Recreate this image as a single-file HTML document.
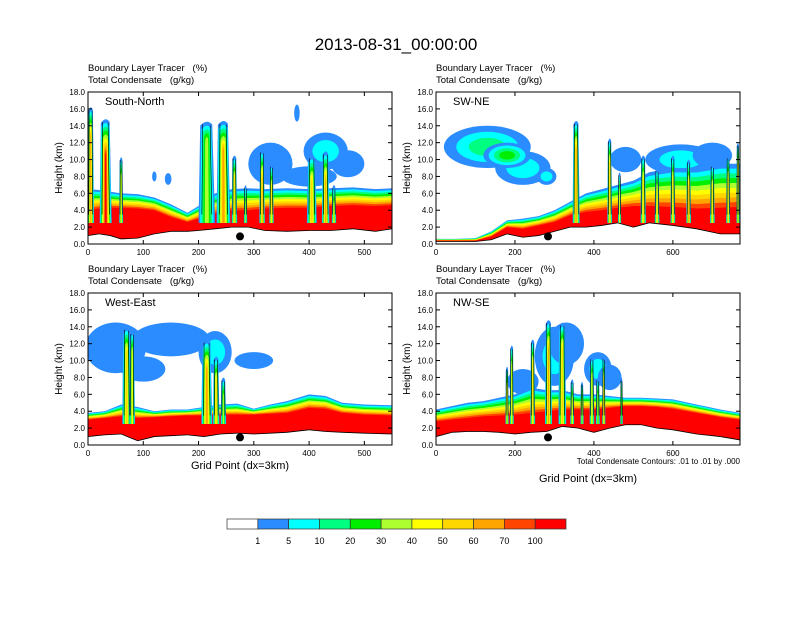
<!DOCTYPE html>
<html><head><meta charset="utf-8">
<style>
body{margin:0;background:#fff;}
svg text{font-family:"Liberation Sans",Arial,sans-serif;}
</style></head>
<body>
<svg id="fig" width="792" height="612" viewBox="0 0 792 612" xmlns="http://www.w3.org/2000/svg">
<rect width="792" height="612" fill="#fff"/>
<text x="396" y="50" font-size="17" text-anchor="middle">2013-08-31_00:00:00</text>
<g id="panels"></g>
<g id="cbar"></g>
</svg>
<script>
const colors=["#ffffff","#2a8cff","#00ffff","#00ff80","#00ee00","#adff2f","#ffff00","#ffd700","#ffa500","#ff4500","#ff0000"];
const cbLabels=["1","5","10","20","30","40","50","60","70","100"];
const yTicks=[0,2,4,6,8,10,12,14,16,18];

// Panel 1 South-North
const p1X=[0,20,40,60,90,120,150,180,200,230,260,290,320,360,400,440,480,520,550];
const p1Terrain=[1.0,1.2,1.0,0.6,0.7,1.2,1.5,1.5,1.6,1.8,2.0,2.0,1.6,1.5,1.6,1.6,1.8,1.5,1.8];
const p1Core=[4.0,4.2,4.3,4.3,4.2,4.0,3.2,2.6,3.0,3.6,4.0,4.0,4.2,4.3,4.3,4.5,4.6,4.5,4.6];
const p1Edge=[6.5,6.4,6.2,6.0,5.9,5.5,4.7,3.7,4.5,6.0,6.5,6.6,6.5,6.6,6.5,6.6,6.7,6.5,6.6];
const p1TowerX=[5,32,60,215,245,265,285,315,332,405,430,445];
const p1TowerW=[12,22,7,30,25,10,6,10,8,18,14,8];
const p1TowerTop=[16.2,14.8,10.3,14.5,14.6,10.5,7.0,11.2,9.5,10.5,11.0,7.0];
const p1TowerLvl=[8,10,6,5,8,7,5,8,7,7,8,6];
const p1CloudX=[330,400,378,470,120,145,430];
const p1CloudY=[9.5,8.0,15.5,9.5,8.0,7.7,11.0];
const p1CloudRX=[40,50,5,30,4,6,40];
const p1CloudRY=[2.5,1.2,1.0,1.6,0.6,0.7,2.2];
const p1CloudLvl=[1,1,1,1,1,1,2];

// Panel 2 SW-NE
const p2X=[0,50,100,140,180,220,260,300,340,380,420,460,500,540,600,660,720,770];
const p2Terrain=[0.3,0.3,0.3,0.5,1.2,0.8,1.0,1.5,2.0,2.0,2.2,2.5,2.0,2.5,2.2,1.8,1.2,1.2];
const p2Core=[0.4,0.4,0.4,0.9,2.0,1.8,2.2,2.6,3.4,3.8,4.0,4.3,4.5,4.5,4.4,4.2,4.3,4.4];
const p2Edge=[0.6,0.6,0.7,1.5,2.8,3.0,3.3,4.0,5.0,6.0,6.5,7.0,7.5,8.5,9.0,9.0,9.5,9.5];
const p2TowerX=[355,440,465,525,560,600,640,700,740,765];
const p2TowerW=[18,12,8,14,12,12,12,12,10,8];
const p2TowerTop=[14.6,12.5,8.5,10.5,9.0,10.5,10.0,9.5,10.5,12.0];
const p2TowerLvl=[8,7,6,7,7,7,8,7,7,6];
const p2CloudX=[130,220,180,280,480,620,700];
const p2CloudY=[11.5,9.0,10.5,8.0,10.0,10.0,10.5];
const p2CloudRX=[110,70,60,25,40,90,50];
const p2CloudRY=[2.5,2.0,1.5,1.0,1.5,1.8,1.5];
const p2CloudLvl=[3,2,4,2,1,2,1];

// Panel 3 West-East
const p3X=[0,30,60,90,120,150,180,210,240,270,300,330,360,400,430,460,500,550];
const p3Terrain=[1.0,1.2,1.3,0.5,1.0,1.1,1.2,1.0,1.3,1.4,1.3,1.4,1.5,1.8,1.6,1.5,1.4,1.3];
const p3Core=[3.0,3.2,3.4,3.2,3.3,3.4,3.5,3.5,3.6,3.6,3.6,3.7,3.8,4.4,4.3,3.8,3.6,3.5];
const p3Edge=[3.8,4.0,4.8,4.5,4.0,4.2,4.2,4.5,4.8,4.9,4.3,4.8,5.2,6.0,5.8,5.0,4.8,4.7];
const p3TowerX=[70,80,215,232,245];
const p3TowerW=[16,10,20,12,10];
const p3TowerTop=[14.0,13.5,12.5,10.5,8.0];
const p3TowerLvl=[7,6,8,7,5];
const p3CloudX=[50,150,230,300,100];
const p3CloudY=[11.5,12.5,11.0,10.0,9.0];
const p3CloudRX=[55,70,30,35,40];
const p3CloudRY=[3.0,2.0,2.5,1.0,1.5];
const p3CloudLvl=[1,1,2,1,1];

// Panel 4 NW-SE
const p4X=[0,40,80,120,160,200,240,280,320,360,400,440,480,520,560,600,660,720,770];
const p4Terrain=[1.0,1.5,1.6,1.6,1.5,1.3,1.5,1.6,2.2,2.0,1.5,2.0,2.4,2.4,2.0,1.8,1.3,1.0,0.6];
const p4Core=[2.8,3.0,3.2,3.4,3.5,3.6,3.8,4.0,4.2,4.2,4.2,4.4,4.6,4.6,4.5,4.3,3.8,3.3,3.0];
const p4Edge=[4.2,4.6,5.0,5.2,5.6,6.0,6.8,6.5,6.5,6.0,6.0,5.8,5.6,5.6,5.5,5.4,4.8,4.2,3.8];
const p4TowerX=[180,192,245,285,320,345,370,395,410,425,470];
const p4TowerW=[8,10,12,18,20,10,8,12,10,8,6];
const p4TowerTop=[9.3,11.8,12.5,14.8,14.5,7.8,7.5,10.5,8.0,10.5,8.0];
const p4TowerLvl=[6,6,7,8,7,6,5,6,5,7,4];
const p4CloudX=[220,300,330,410,440];
const p4CloudY=[7.5,10.5,12.0,9.0,8.0];
const p4CloudRX=[40,50,45,35,30];
const p4CloudRY=[1.5,3.5,2.5,2.0,1.5];
const p4CloudLvl=[1,2,1,2,1];

const NS="http://www.w3.org/2000/svg";
function mk(tag,attrs,parent){const e=document.createElementNS(NS,tag);for(const k in attrs)e.setAttribute(k,attrs[k]);parent.appendChild(e);return e;}

function drawPanel(g,ox,oy,w,h,xmax,xticks,label,X,T,C,E,tX,tW,tT,tL,cX,cY,cRX,cRY,cL){
  const sx=v=>ox+v/xmax*w, sy=v=>oy+h-v/18*h, sw=v=>v/xmax*w, sh=v=>v/18*h;
  const clip='clip'+label.replace(/\W/g,'');
  const defs=mk('defs',{},g);
  const cp=mk('clipPath',{id:clip},defs);mk('rect',{x:ox,y:oy,width:w,height:h},cp);
  const body=mk('g',{'clip-path':'url(#'+clip+')'},g);
  cX.forEach((cx,i)=>{
    for(let l=1;l<=cL[i];l++){
      const f=1-(l-1)/(cL[i]+0.5);
      const e=mk('ellipse',{cx:sx(cx),cy:sy(cY[i]),rx:sw(cRX[i])*f,ry:sh(cRY[i])*f,fill:colors[l]},body);
      
      
    }
  });
  for(let l=1;l<=10;l++){
    const frac=(l-1)/9;
    let pts=X.map((x,i)=>sx(x)+','+sy(E[i]+(C[i]-E[i])*frac)).join(' ');
    pts+=' '+X.slice().reverse().map((x,j)=>{const i=X.length-1-j;return sx(x)+','+sy(T[i]);}).join(' ');
    const p=mk('polygon',{points:pts,fill:colors[l]},body);
    
    
  }
  tX.forEach((x,i)=>{
    const cx=sx(x), base=sy(2.5);
    for(let l=1;l<=tL[i];l++){
      const f=1-(l-1)/(tL[i]+0.3);
      const top=sy(tT[i]-(l-1)*0.45);
      const hw=sw(tW[i])*f/2, tw=hw*0.65;
      const p=mk('path',{d:`M${cx-hw},${base} L${cx-hw*0.8},${top+4} Q${cx},${top-3} ${cx+tw},${top+3} L${cx+hw},${base} Z`,fill:colors[l]},body);
      
      
    }
    const hw=sw(tW[i])/2;
    mk('line',{x1:cx-hw*0.6,y1:sy(3.5),x2:cx-hw*0.5,y2:sy(tT[i])+3,stroke:'#000','stroke-width':0.6},body);
    mk('line',{x1:cx+hw*0.4,y1:sy(tT[i])+4,x2:cx+hw*0.6,y2:sy(3.5),stroke:'#000','stroke-width':0.6},body);
  });
  for(let i=0;i<X.length-1;i++){
    const ln=mk('line',{x1:sx(X[i]),y1:sy(T[i]),x2:sx(X[i+1]),y2:sy(T[i+1]),stroke:'#000','stroke-width':0.8},body);
    
    
  }
  mk('rect',{x:ox,y:oy,width:w,height:h,fill:'none',stroke:'#000','stroke-width':1},g);
  yTicks.forEach(v=>{
    const y=sy(v);
    mk('line',{x1:ox,x2:ox+4,y1:y,y2:y,stroke:'#000'},g);
    mk('line',{x1:ox+w,x2:ox+w-4,y1:y,y2:y,stroke:'#000'},g);
    const t=mk('text',{x:ox-3,y:y+3,'font-size':8,'text-anchor':'end'},g);t.textContent=v.toFixed(1);
    
    
  });
  xticks.forEach(v=>{
    const x=sx(v);
    mk('line',{x1:x,x2:x,y1:oy+h,y2:oy+h-4,stroke:'#000'},g);
    mk('line',{x1:x,x2:x,y1:oy,y2:oy+4,stroke:'#000'},g);
    const t=mk('text',{x:x,y:oy+h+11,'font-size':8,'text-anchor':'middle'},g);t.textContent=v;
    
    
  });
  const yt=mk('text',{x:ox-26,y:oy+h/2,'font-size':10,'text-anchor':'middle',transform:`rotate(-90 ${ox-26} ${oy+h/2})`},g);yt.textContent='Height (km)';
  
  
  const t1=mk('text',{x:ox,y:oy-21,'font-size':9.5},g);t1.textContent='Boundary Layer Tracer\u00a0\u00a0\u00a0(%)';
  
  
  const t2=mk('text',{x:ox,y:oy-9,'font-size':9.5},g);t2.textContent='Total Condensate\u00a0\u00a0\u00a0(g/kg)';
  
  
  const lb=mk('text',{x:ox+17,y:oy+13,'font-size':11},g);lb.textContent=label;
  
  
  const dot=mk('circle',{cx:ox+w*0.5+(xmax>600?-40:0),cy:sy(0.9),r:4,fill:'#000'},g);
  
  
}
const P=document.getElementById('panels');
const g1=mk('g',{},P);
drawPanel(g1,88,92,304,152,550,[0,100,200,300,400,500],'South-North',p1X,p1Terrain,p1Core,p1Edge,p1TowerX,p1TowerW,p1TowerTop,p1TowerLvl,p1CloudX,p1CloudY,p1CloudRX,p1CloudRY,p1CloudLvl);
const g2=mk('g',{},P);
drawPanel(g2,436,92,304,152,770,[0,200,400,600],'SW-NE',p2X,p2Terrain,p2Core,p2Edge,p2TowerX,p2TowerW,p2TowerTop,p2TowerLvl,p2CloudX,p2CloudY,p2CloudRX,p2CloudRY,p2CloudLvl);
const g3=mk('g',{},P);
drawPanel(g3,88,293,304,152,550,[0,100,200,300,400,500],'West-East',p3X,p3Terrain,p3Core,p3Edge,p3TowerX,p3TowerW,p3TowerTop,p3TowerLvl,p3CloudX,p3CloudY,p3CloudRX,p3CloudRY,p3CloudLvl);
const g4=mk('g',{},P);
drawPanel(g4,436,293,304,152,770,[0,200,400,600],'NW-SE',p4X,p4Terrain,p4Core,p4Edge,p4TowerX,p4TowerW,p4TowerTop,p4TowerLvl,p4CloudX,p4CloudY,p4CloudRX,p4CloudRY,p4CloudLvl);

const xt1=mk('text',{x:240,y:469,'font-size':11,'text-anchor':'middle'},P);xt1.textContent='Grid Point (dx=3km)';


const xt2=mk('text',{x:588,y:482,'font-size':11,'text-anchor':'middle'},P);xt2.textContent='Grid Point (dx=3km)';


const note=mk('text',{x:740,y:464,'font-size':8,'text-anchor':'end'},P);note.textContent='Total Condensate Contours: .01 to .01 by .000';



const CB=document.getElementById('cbar');
const bw=(566-227)/colors.length;
colors.forEach((c,i)=>{
  const r=mk('rect',{x:227+i*bw,y:519,width:bw,height:10,fill:c,stroke:'#333','stroke-width':0.7},CB);
  
  
});
cbLabels.forEach((s,i)=>{
  const t=mk('text',{x:227+(i+1)*bw,y:544,'font-size':9,'text-anchor':'middle'},CB);t.textContent=s;
  
  
});
</script>
</body></html>
